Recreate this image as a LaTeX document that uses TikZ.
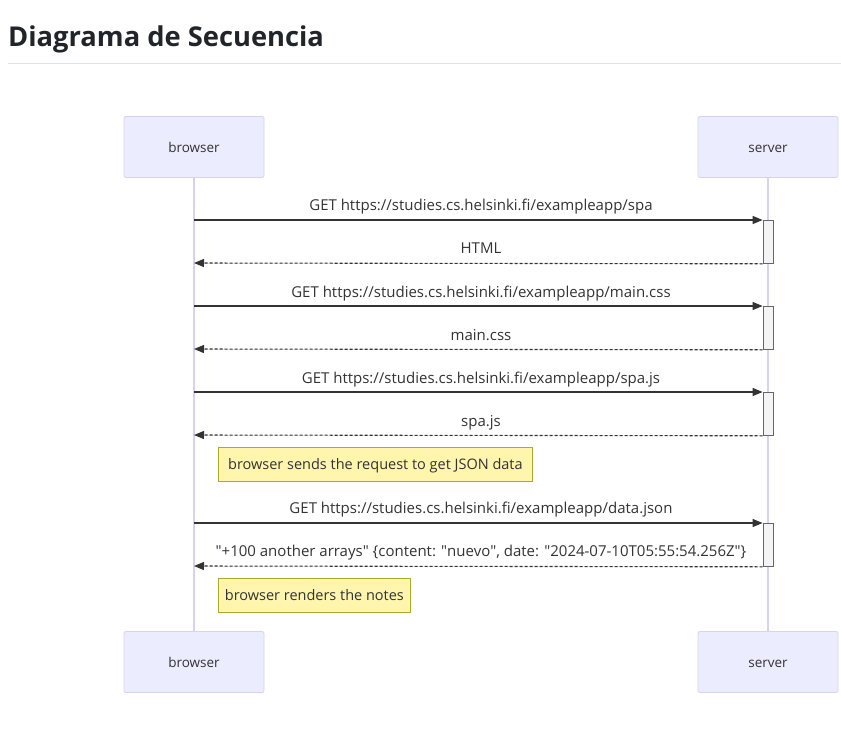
\documentclass[tikz,border=0pt]{standalone}
\usepackage{fontspec}
\setmainfont{Open Sans}
\usetikzlibrary{arrows.meta,positioning}
\definecolor{actorfill}{HTML}{ECECFF}
\definecolor{actorline}{HTML}{DAD0F2}
\definecolor{notefill}{HTML}{FFF5AD}
\definecolor{noteline}{HTML}{AAAA33}
\definecolor{actfill}{HTML}{F4F4F4}
\definecolor{msgcol}{HTML}{333333}
\definecolor{titlecol}{HTML}{212529}
\definecolor{rulecol}{HTML}{DEE2E6}
\newcommand{\qt}{\textquotedbl}
\tikzset{
  actor/.style={draw=actorline, fill=actorfill, rounded corners=2pt, line width=0.8pt, minimum width=140pt, minimum height=61pt, text height=12pt, text depth=1pt, font=\fontsize{13.5}{16}\selectfont, text=msgcol},
  lifeline/.style={draw=actorline, line width=1.2pt},
  activation/.style={draw=black!60, fill=actfill, line width=0.8pt, minimum width=10pt, minimum height=43pt, inner sep=0pt},
  note/.style={draw=noteline, fill=notefill, line width=0.8pt, minimum height=34pt, inner sep=0pt, text height=12pt, text depth=2.5pt, font=\fontsize{14.5}{17}\selectfont, text=msgcol},
  msglabel/.style={font=\fontsize{15}{17}\selectfont, text=msgcol, inner sep=0pt, text height=11pt, text depth=3.5pt},
  callarrow/.style={-{Triangle[length=10pt,width=8pt]}, draw=msgcol, fill=msgcol, line width=1.1pt},
  replyarrow/.style={-{Triangle[length=10pt,width=8pt]}, draw=msgcol, fill=msgcol, line width=1.1pt, dash pattern=on 3pt off 2pt}
}
\begin{document}
\begin{tikzpicture}[x=1pt,y=-1pt]
\useasboundingbox (0,0) rectangle (841,737);
% heading
\node[anchor=base west, inner sep=0pt, font=\fontsize{27.3}{32}\selectfont\bfseries, text=titlecol] (title) at (8,46) {Diagrama de Secuencia};
\draw[rulecol, line width=1pt] (8,63) -- (841,63);
% actors
\node[actor] (browser) at (194,147) {browser};
\node[actor] (server) at (768,147) {server};
\node[actor] (browserEnd) at (194,662) {browser};
\node[actor] (serverEnd) at (768,662) {server};
\draw[lifeline] (browser) -- (browserEnd);
\draw[lifeline] (server) -- (serverEnd);
% activations
\node[activation, anchor=north] (act1) at (768,220) {};
\node[activation, anchor=north] (act2) at (768,306) {};
\node[activation, anchor=north] (act3) at (768,392) {};
\node[activation, anchor=north] (act4) at (768,523) {};
% browser side ends
\coordinate (b1) at (194,220);
\coordinate (b2) at (194,263);
\coordinate (b3) at (194,306);
\coordinate (b4) at (194,349);
\coordinate (b5) at (194,392);
\coordinate (b6) at (194,435);
\coordinate (b7) at (194,523);
\coordinate (b8) at (194,566);
% messages
\node[msglabel] (m1) at (481,207) {GET https://studies.cs.helsinki.fi/exampleapp/spa};
\draw[callarrow] (b1) -- (act1.north west);
\node[msglabel] (m2) at (481,250) {HTML};
\draw[replyarrow] (act1.south west) -- (b2);
\node[msglabel] (m3) at (481,294) {GET https://studies.cs.helsinki.fi/exampleapp/main.css};
\draw[callarrow] (b3) -- (act2.north west);
\node[msglabel] (m4) at (481,337) {main.css};
\draw[replyarrow] (act2.south west) -- (b4);
\node[msglabel] (m5) at (481,380) {GET https://studies.cs.helsinki.fi/exampleapp/spa.js};
\draw[callarrow] (b5) -- (act3.north west);
\node[msglabel] (m6) at (481,423) {spa.js};
\draw[replyarrow] (act3.south west) -- (b6);
\node[note, minimum width=314pt, anchor=north west] (note1) at (218,447) {browser sends the request to get JSON data};
\node[msglabel] (m7) at (481,510) {GET https://studies.cs.helsinki.fi/exampleapp/data.json};
\draw[callarrow] (b7) -- (act4.north west);
\node[msglabel] (m8) at (481,553) {\qt+100 another arrays\qt{} \{content: \qt nuevo\qt, date: \qt 2024-07-10T05:55:54.256Z\qt\}};
\draw[replyarrow] (act4.south west) -- (b8);
\node[note, minimum width=192pt, anchor=north west] (note2) at (218,578) {browser renders the notes};
\end{tikzpicture}
\end{document}
